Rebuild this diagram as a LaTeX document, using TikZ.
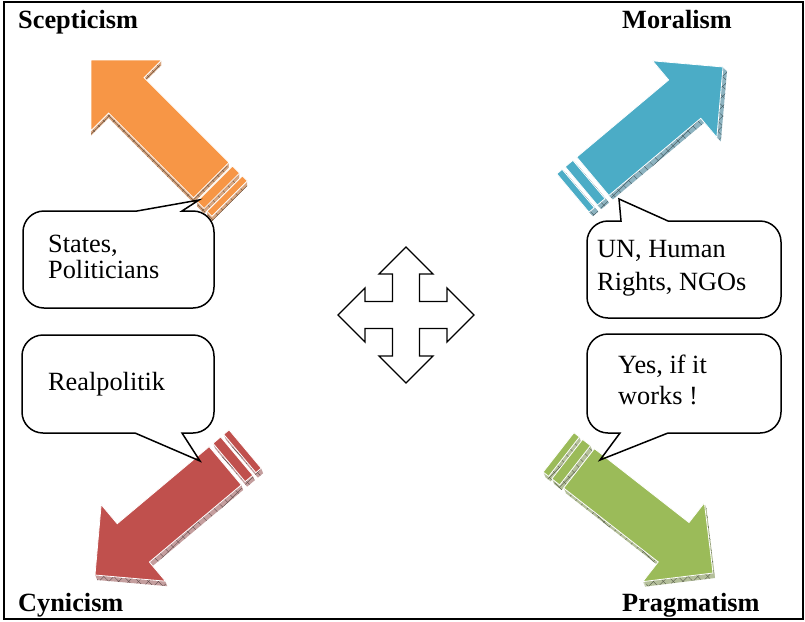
\documentclass[tikz,border=0pt]{standalone}
\usepackage{fontspec}
\setmainfont{Liberation Serif}
\usetikzlibrary{patterns.meta}

\definecolor{arrowOrange}{HTML}{F79646}
\definecolor{arrowBlue}{HTML}{4BACC6}
\definecolor{arrowRed}{HTML}{C0504D}
\definecolor{arrowGreen}{HTML}{9BBB59}
\definecolor{sideOrange}{HTML}{D8A680}
\definecolor{sideBlue}{HTML}{8DB3C0}
\definecolor{sideRed}{HTML}{C49E9E}
\definecolor{sideGreen}{HTML}{B4BF9A}

% striped arrow, tip at the origin, pointing along +x
\def\ArrowOutline{(0,0) -- (-50,50) -- (-50,25) -- (-170,25) -- (-170,-25) -- (-50,-25) -- (-50,-50) -- cycle
  (-175,25) rectangle (-185,-25) (-189,25) rectangle (-196,-25)}

% #1,#2 tip, #3 direction, #4 face colour, #5 side colour, #6,#7 depth offset
\newcommand\StripedArrow[7]{%
  \foreach \k in {0.2,0.4,0.6,0.8,1}{
    \fill[#5, shift={(#1+\k*#6,#2+\k*#7)}, rotate=#3] \ArrowOutline;
  }
  \path[pattern={Lines[angle=45,distance=7pt,line width=.35pt]}, pattern color=#5!45!black,
        shift={(#1+#6,#2+#7)}, rotate=#3] \ArrowOutline;
  \path[pattern={Lines[angle=-45,distance=7pt,line width=.35pt]}, pattern color=#5!45!black,
        shift={(#1+#6,#2+#7)}, rotate=#3] \ArrowOutline;
  \filldraw[fill=#4, draw=white, line width=.8pt, shift={(#1,#2)}, rotate=#3] \ArrowOutline;
}

\tikzset{
  title/.style={font=\fontsize{26.3}{30}\selectfont\bfseries, inner sep=0pt, anchor=base west},
  txt/.style={font=\fontsize{26.3}{30}\selectfont, inner sep=0pt, anchor=base west},
  callout/.style={draw=black, line width=1.5pt, line join=miter},
  frame/.style={draw=black, line width=1.6pt},
  cross/.style={draw=black, line width=1.3pt, fill=white, line join=miter}
}

\begin{document}
\begin{tikzpicture}[x=1pt,y=-1pt]
\useasboundingbox (0,0) rectangle (805,621);
\fill[white] (0,0) rectangle (805,621);
\draw[frame] (4,2) rectangle (803,619);

% corner titles
\node[title] (scep) at (18,28) {Scepticism};
\node[title] (moral) at (622,28) {Moralism};
\node[title] (cyn) at (18,611) {Cynicism};
\node[title] (prag) at (622,611) {Pragmatism};

% the four striped arrows
\StripedArrow{91}{60}{135}{arrowOrange}{sideOrange}{0}{5}
\StripedArrow{723}{67}{40}{arrowBlue}{sideBlue}{4}{4}
\StripedArrow{95}{575}{220}{arrowRed}{sideRed}{2}{5}
\StripedArrow{713}{573}{-38}{arrowGreen}{sideGreen}{2}{5}

% four-way arrow in the middle
\coordinate (hub) at (406,315);
\draw[cross, shift={(hub)}]
  (0,-68) -- (27,-41) -- (13.5,-41) -- (13.5,-13.5) -- (41,-13.5) -- (41,-27) -- (68,0)
  -- (41,27) -- (41,13.5) -- (13.5,13.5) -- (13.5,41) -- (27,41) -- (0,68)
  -- (-27,41) -- (-13.5,41) -- (-13.5,13.5) -- (-41,13.5) -- (-41,27) -- (-68,0)
  -- (-41,-27) -- (-41,-13.5) -- (-13.5,-13.5) -- (-13.5,-41) -- (-27,-41) -- cycle;

% speech bubbles (corner radius 21)
\draw[callout] (44,211) -- (137,211) -- (199,200) -- (182,211) -- (193,211)
  .. controls (204.6,211) and (214,220.4) .. (214,232) -- (214,287)
  .. controls (214,298.6) and (204.6,308) .. (193,308)
  -- (44,308) .. controls (32.4,308) and (23,298.6) .. (23,287)
  -- (23,232) .. controls (23,220.4) and (32.4,211) .. (44,211) -- cycle;
\node[txt] (s1a) at (48,252) {States,};
\node[txt] (s1b) at (48,278) {Politicians};

\draw[callout] (608,221) -- (621,221) -- (619,199) -- (668,221) -- (760,221)
  .. controls (771.6,221) and (781,230.4) .. (781,242) -- (781,297)
  .. controls (781,308.6) and (771.6,318) .. (760,318)
  -- (608,318) .. controls (596.4,318) and (587,308.6) .. (587,297)
  -- (587,242) .. controls (587,230.4) and (596.4,221) .. (608,221) -- cycle;
\node[txt] (s2a) at (597,257) {UN, Human};
\node[txt] (s2b) at (597,290) {Rights, NGOs};

\draw[callout] (43,335) -- (193,335) .. controls (204.6,335) and (214,344.4) .. (214,356)
  -- (214,412) .. controls (214,423.6) and (204.6,433) .. (193,433)
  -- (182,433) -- (200,461) -- (135,433) -- (43,433)
  .. controls (31.4,433) and (22,423.6) .. (22,412) -- (22,356)
  .. controls (22,344.4) and (31.4,335) .. (43,335) -- cycle;
\node[txt] (s3) at (48,390) {Realpolitik};

\draw[callout] (608,334) -- (760,334) .. controls (771.6,334) and (781,343.4) .. (781,355)
  -- (781,412) .. controls (781,423.6) and (771.6,433) .. (760,433)
  -- (668,433) -- (600,460) -- (620,433) -- (608,433)
  .. controls (596.4,433) and (587,423.6) .. (587,412) -- (587,355)
  .. controls (587,343.4) and (596.4,334) .. (608,334) -- cycle;
\node[txt] (s4a) at (618,373) {Yes, if it};
\node[txt] (s4b) at (618,404) {works !};
\end{tikzpicture}
\end{document}
